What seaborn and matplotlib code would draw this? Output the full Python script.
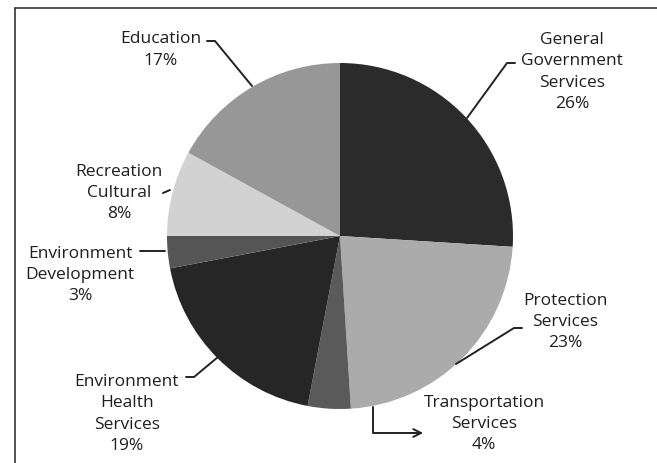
import matplotlib
matplotlib.use("Agg")
import matplotlib.pyplot as plt
import seaborn as sns

# Budget shares, clockwise from 12 o'clock
categories = ["General\nGovernment\nServices", "Protection\nServices", "Transportation\nServices",
              "Environment\nHealth\nServices", "Environment\nDevelopment", "Recreation\nCultural",
              "Education"]
shares = [26, 23, 4, 19, 3, 8, 17]
grays = ["#2b2b2b", "#ababab", "#5a5a5a", "#262626", "#555555", "#d2d2d2", "#979797"]

sns.set_theme(style="white")
plt.rcParams['font.family'] = ['Open Sans', 'DejaVu Sans']

W, H = 657, 463
fig = plt.figure(figsize=(W / 100, H / 100), dpi=100)
ax = fig.add_axes([0, 0, 1, 1])

cx, cy, r = 340, H - 236, 173
ax.pie(shares, colors=grays, startangle=90, counterclock=False,
       center=(cx, cy), radius=r, wedgeprops=dict(linewidth=0))
ax.set_xlim(0, W)
ax.set_ylim(0, H)
ax.set_aspect('equal')
ax.axis('off')

# label text anchor (pixel coords, y from top), leader line points
label_pos = [(572, 72), (565, 322), (484, 424), (127, 414), (80, 275), (119, 193), (161, 50)]
leaders = [
    [(515, 63), (507, 63), (467, 118)],
    [(522, 328), (514, 328), (456, 364)],
    None,
    [(186, 377), (194, 377), (218, 357)],
    [(140, 251), (165, 251)],
    [(163, 193), (170, 190)],
    [(207, 41), (215, 41), (252, 86)],
]

for lab, pct, pos, ld in zip(categories, shares, label_pos, leaders):
    ax.text(pos[0], H - pos[1], f"{lab}\n{pct}%", ha="center", va="center",
            fontsize=12.5, color="#1e1e1e", linespacing=1.45, fontweight="medium")
    if ld:
        xs = [p[0] for p in ld]
        ys = [H - p[1] for p in ld]
        ax.plot(xs, ys, color="#222222", lw=1.4)

# Transportation leader with arrow
ax.plot([373, 373, 420], [H - 407, H - 433, H - 433], color="#222222", lw=1.4)
ax.annotate("", xy=(426, H - 433), xytext=(410, H - 433),
            arrowprops=dict(arrowstyle="->", color="#222222", lw=1.4, mutation_scale=14))

# scanned frame edges (top and left)
ax.plot([15, W], [H - 8, H - 8], color="#333333", lw=1.2)
ax.plot([15, 15], [H - 8, 0], color="#333333", lw=1.2)

fig.savefig("out.png", dpi=100, facecolor="white")
